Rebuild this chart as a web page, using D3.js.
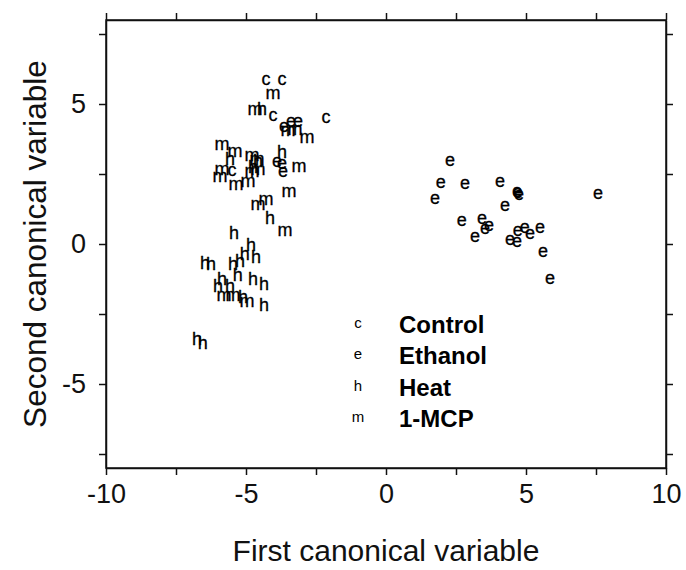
<!DOCTYPE html>
<html><head><meta charset="utf-8">
<script src="https://cdn.jsdelivr.net/npm/d3@7"></script>
<style>body{margin:0;background:#fff}svg{display:block}text{font-family:Arial,"Liberation Sans",sans-serif;fill:#111}</style>
</head><body><svg id="c" width="686" height="570"></svg>
<script>
// Data (first canonical variable, second canonical variable)
const control = [[-4.29,5.86],[-3.71,5.86],[-4.04,4.57],[-2.14,4.5],[-5.5,2.61]];
const ethanol = [[-3.64,4.18],[-3.39,4.36],[-3.14,4.36],[-3.89,2.93],[-3.71,2.86],[-3.68,2.57],
  [2.29,2.96],[1.96,2.18],[2.82,2.14],[1.75,1.61],[4.07,2.21],[4.68,1.86],[4.75,1.75],[4.71,1.82],
  [4.25,1.36],[7.57,1.79],[2.71,0.82],[3.43,0.89],[3.68,0.64],[3.54,0.54],[3.18,0.25],[4.43,0.14],
  [4.68,0.07],[4.71,0.46],[4.96,0.57],[5.14,0.36],[5.5,0.57],[5.61,-0.29],[5.86,-1.25]];
const heat = [[-4.43,4.79],[-3.71,3.25],[-5.57,3.0],[-4.57,2.93],[-4.75,2.71],[-4.14,0.89],[-5.43,0.36],
  [-4.82,-0.07],[-5.04,-0.39],[-4.64,-0.5],[-6.46,-0.71],[-6.25,-0.75],[-5.46,-0.75],[-5.21,-0.64],
  [-5.86,-1.29],[-5.29,-1.14],[-4.75,-1.29],[-4.36,-1.46],[-6.0,-1.54],[-5.57,-1.54],[-5.11,-1.93],
  [-4.36,-2.21],[-6.75,-3.43],[-6.54,-3.57]];
const mcp = [[-4.04,5.36],[-4.68,4.79],[-3.5,4.04],[-3.25,4.07],[-2.82,3.79],[-5.86,3.54],[-5.39,3.29],
  [-4.79,3.14],[-4.61,3.0],[-5.86,2.64],[-5.93,2.39],[-4.57,2.64],[-4.79,2.57],[-3.11,2.75],[-5.36,2.11],
  [-4.93,2.21],[-3.46,1.86],[-4.57,1.39],[-4.29,1.57],[-3.61,0.46],[-5.79,-1.86],[-5.46,-1.86],[-4.96,-2.07]];
const groups = [
  {symbol:"c", label:"Control", data:control},
  {symbol:"e", label:"Ethanol", data:ethanol},
  {symbol:"h", label:"Heat", data:heat},
  {symbol:"m", label:"1-MCP", data:mcp}
];
const xTicks = [-10,-5,0,5,10];
const yTicks = [-5,0,5];
const minorTicks = [-10,-7.5,-5,-2.5,0,2.5,5,7.5,10];
const yMinor = [-7.5,-5,-2.5,0,2.5,5,7.5];
const xTitle = "First canonical variable";
const yTitle = "Second canonical variable";

const svg = d3.select("#c");
const L=106, R=666, T=20, B=468;
const x = d3.scaleLinear().domain([-10,10]).range([L,R]);
const y = d3.scaleLinear().domain([-8,8]).range([B,T]);

function styleAxis(g){ g.select(".domain").attr("stroke","#111").attr("stroke-width",1.5);
  g.selectAll(".tick line").attr("stroke","#111").attr("stroke-width",1.5); }

svg.append("g").attr("transform",`translate(0,${B})`)
  .call(d3.axisBottom(x).tickValues(minorTicks).tickSize(7).tickSizeOuter(0)
    .tickFormat(d=>xTicks.includes(d)?String(d):""))
  .call(styleAxis)
  .call(g=>g.selectAll("text").attr("font-size",27).attr("dy","0.71em").attr("y",16).style("fill","#111"));
svg.append("g").attr("transform",`translate(0,${T})`)
  .call(d3.axisTop(x).tickValues(minorTicks).tickSize(7).tickSizeOuter(0).tickFormat(""))
  .call(styleAxis);
svg.append("g").attr("transform",`translate(${L},0)`)
  .call(d3.axisLeft(y).tickValues(yMinor).tickSize(7).tickSizeOuter(0)
    .tickFormat(d=>yTicks.includes(d)?String(d):""))
  .call(styleAxis)
  .call(g=>g.selectAll("text").attr("font-size",27).attr("x",-20).style("fill","#111"));
svg.append("g").attr("transform",`translate(${R},0)`)
  .call(d3.axisRight(y).tickValues(yMinor).tickSize(7).tickSizeOuter(0).tickFormat(""))
  .call(styleAxis);
svg.append("rect").attr("x",L).attr("y",T).attr("width",R-L).attr("height",B-T)
  .attr("fill","none").attr("stroke","#111").attr("stroke-width",1.5);

svg.append("text").attr("x",(L+R)/2).attr("y",561).attr("text-anchor","middle")
  .attr("font-size",30).text(xTitle);
svg.append("text").attr("transform",`translate(35,${(T+B)/2}) rotate(-90)`).attr("text-anchor","middle")
  .attr("dominant-baseline","central").attr("font-size",31.5).text(yTitle);

const fs = 18;
groups.forEach(gr=>{
  svg.append("g").selectAll("text").data(gr.data).join("text")
    .attr("x",d=>x(d[0])).attr("y",d=>y(d[1])+fs*0.26)
    .attr("text-anchor","middle").attr("font-size",fs)
    .style("fill","#000").style("stroke","#000").style("stroke-width",0.3).text(gr.symbol);
});

const leg = svg.append("g");
groups.forEach((gr,i)=>{
  const cy = 324 + i*31.5;
  leg.append("text").attr("x",358).attr("y",cy+15*0.26).attr("text-anchor","middle")
    .attr("font-size",15).style("fill","#000").text(gr.symbol);
  leg.append("text").attr("x",399).attr("y",cy).attr("dominant-baseline","central")
    .attr("font-size",24).attr("font-weight","bold").style("fill","#000").text(gr.label);
});
</script></body></html>
